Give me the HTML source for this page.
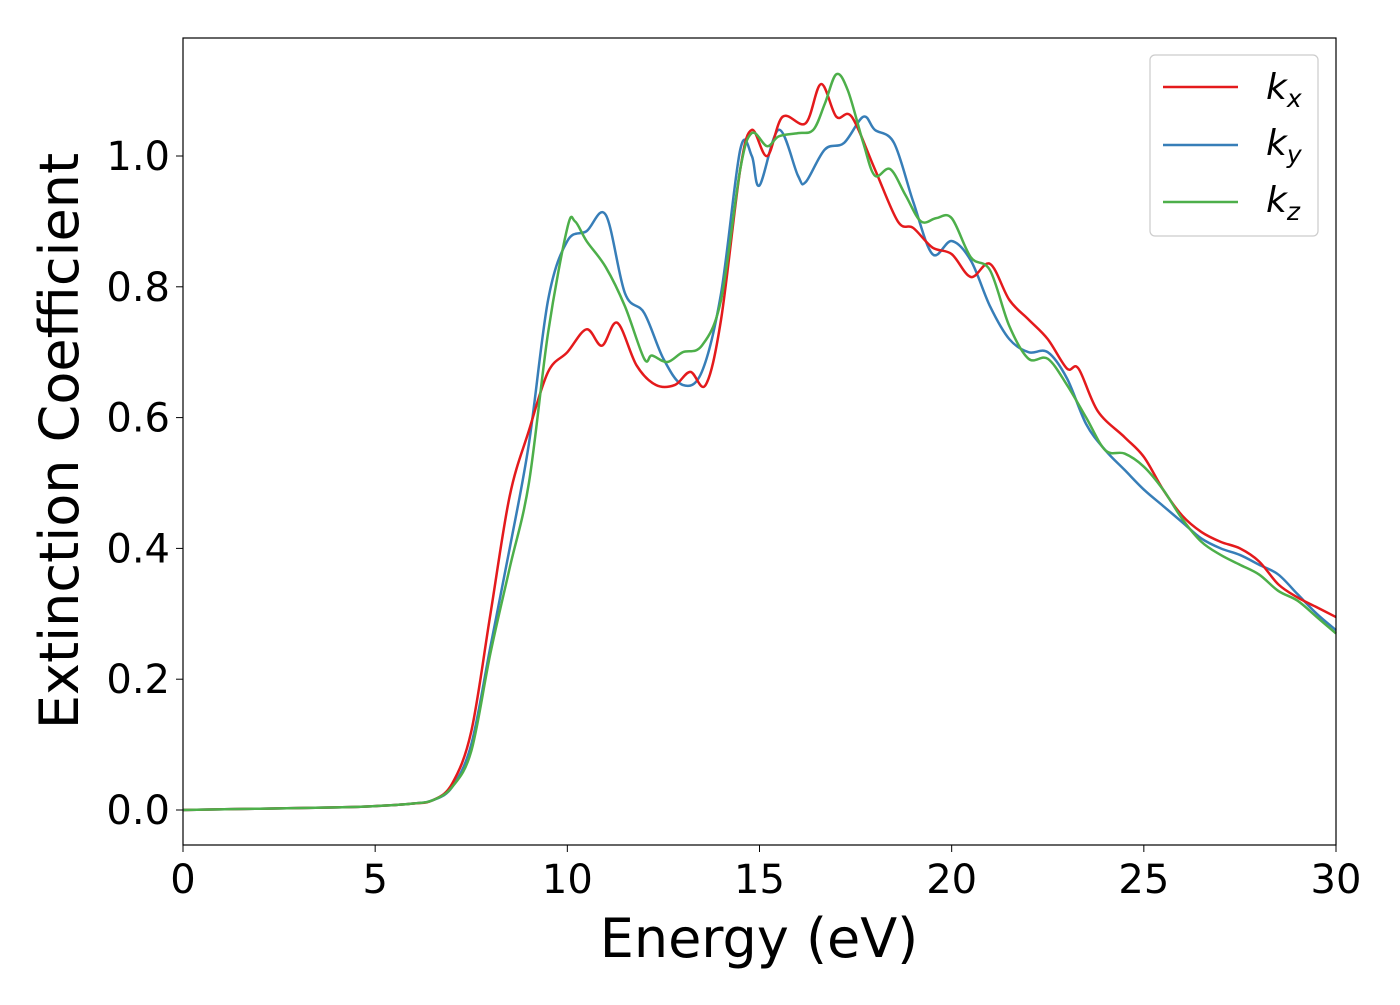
<!DOCTYPE html>
<html><head><meta charset="utf-8"><style>
body{margin:0;background:#fff}
svg text{font-family:"DejaVu Sans","Liberation Sans",sans-serif;fill:#000}
</style></head><body>
<svg id="chart" width="1400" height="1000" xmlns="http://www.w3.org/2000/svg">
<rect width="1400" height="1000" fill="#fff"/>
<g id="series"></g>
<rect x="183" y="38" width="1153" height="807" fill="none" stroke="#000" stroke-width="1.2"/>
<g id="xt"></g>
<g id="yt"></g>
<text x="759" y="957" font-size="54" text-anchor="middle">Energy (eV)</text>
<text transform="translate(78,441) rotate(-90)" font-size="54" text-anchor="middle">Extinction Coefficient</text>
<g>
<rect x="1150" y="55" width="168" height="181" rx="5" fill="#fff" stroke="#ccc" stroke-width="1.2"/>
<line x1="1163" x2="1238" y1="87" y2="87" stroke="#e41a1c" stroke-width="2.5"/>
<line x1="1163" x2="1238" y1="145" y2="145" stroke="#377eb8" stroke-width="2.5"/>
<line x1="1163" x2="1238" y1="202" y2="202" stroke="#4daf4a" stroke-width="2.5"/>
<text x="1266" y="99" font-size="36" font-style="italic">k<tspan font-size="25" dy="8">x</tspan></text>
<text x="1266" y="155" font-size="36" font-style="italic">k<tspan font-size="25" dy="8">y</tspan></text>
<text x="1266" y="212" font-size="36" font-style="italic">k<tspan font-size="25" dy="8">z</tspan></text>
</g>
</svg>
<script>
const xTicks=[0,5,10,15,20,25,30];
const yTicks=[0.0,0.2,0.4,0.6,0.8,1.0];
const yTickLabels=["0.0","0.2","0.4","0.6","0.8","1.0"];
const kxE=[0,2,4,5,6,6.5,7,7.5,8,8.5,9,9.5,10,10.5,10.9,11.3,11.8,12.3,12.8,13.2,13.6,14,14.5,14.8,15.2,15.6,16.2,16.6,17,17.4,18,18.6,19,19.5,20,20.5,21,21.5,22,22.5,23,23.3,23.8,24.5,25,25.5,26,26.5,27,27.5,28,28.5,29,29.5,30];
const kxV=[0,0.002,0.004,0.006,0.01,0.015,0.04,0.12,0.3,0.48,0.58,0.67,0.7,0.735,0.71,0.745,0.68,0.65,0.65,0.67,0.65,0.75,0.98,1.04,1.0,1.06,1.05,1.11,1.06,1.06,0.98,0.9,0.89,0.86,0.85,0.815,0.835,0.78,0.75,0.72,0.675,0.675,0.61,0.57,0.54,0.49,0.45,0.425,0.41,0.4,0.38,0.345,0.325,0.31,0.295];
const kyE=[0,2,4,5,6,6.5,7,7.5,8,8.5,9,9.5,10,10.5,11,11.5,12,12.5,13,13.5,14,14.5,14.8,15,15.5,16,16.2,16.7,17.2,17.7,18,18.5,19,19.5,20,20.5,21,21.5,22,22.5,23,23.5,24,24.5,25,25.5,26,26.5,27,27.5,28,28.5,29,29.5,30];
const kyV=[0,0.002,0.004,0.006,0.01,0.015,0.035,0.1,0.25,0.4,0.56,0.78,0.87,0.885,0.91,0.79,0.76,0.69,0.65,0.67,0.79,1.01,1.0,0.955,1.04,0.97,0.96,1.01,1.02,1.06,1.04,1.02,0.93,0.85,0.87,0.84,0.77,0.72,0.7,0.7,0.66,0.59,0.55,0.52,0.49,0.465,0.44,0.415,0.4,0.39,0.375,0.36,0.33,0.3,0.275];
const kzE=[0,2,4,5,6,6.5,7,7.5,8,8.5,9,9.5,10,10.2,10.5,11,11.5,12,12.2,12.6,13,13.5,14,14.5,14.8,15.2,15.5,16,16.4,16.7,17,17.3,17.7,18,18.4,18.8,19.2,19.6,20,20.5,21,21.5,22,22.5,23,23.5,24,24.5,25,25.5,26,26.5,27,27.5,28,28.5,29,29.5,30];
const kzV=[0,0.002,0.004,0.006,0.01,0.015,0.035,0.09,0.24,0.37,0.5,0.73,0.89,0.9,0.87,0.83,0.77,0.69,0.695,0.685,0.7,0.71,0.78,0.98,1.035,1.015,1.03,1.035,1.04,1.08,1.125,1.1,1.02,0.97,0.98,0.94,0.9,0.905,0.905,0.845,0.825,0.74,0.69,0.69,0.65,0.6,0.55,0.545,0.525,0.49,0.445,0.41,0.39,0.375,0.36,0.335,0.32,0.295,0.27];
const X=e=>183+(e/30)*1153;
const Y=v=>810-v*654;
const NS="http://www.w3.org/2000/svg";
function path(E,V){
  const p=E.map((e,i)=>[X(e),Y(V[i])]);
  let d="M"+p[0][0]+","+p[0][1];
  for(let i=0;i<p.length-1;i++){
    const p0=p[Math.max(0,i-1)],p1=p[i],p2=p[i+1],p3=p[Math.min(p.length-1,i+2)];
    const c1=[p1[0]+(p2[0]-p0[0])/6,p1[1]+(p2[1]-p0[1])/6];
    const c2=[p2[0]-(p3[0]-p1[0])/6,p2[1]-(p3[1]-p1[1])/6];
    d+=" C"+c1+" "+c2+" "+p2;
  }
  return d;
}
const g=document.getElementById("series");
[[kyE,kyV,"#377eb8","line-ky"],[kxE,kxV,"#e41a1c","line-kx"],[kzE,kzV,"#4daf4a","line-kz"]].forEach(s=>{
  const el=document.createElementNS(NS,"path");
  el.setAttribute("d",path(s[0],s[1]));
  el.setAttribute("fill","none");el.setAttribute("stroke",s[2]);el.setAttribute("stroke-width","2.5");
  
  
  g.appendChild(el);
});
const xt=document.getElementById("xt");
xTicks.forEach(t=>{
  const l=document.createElementNS(NS,"line");
  l.setAttribute("x1",X(t));l.setAttribute("x2",X(t));l.setAttribute("y1",845);l.setAttribute("y2",852);l.setAttribute("stroke","#000");
  
  
  xt.appendChild(l);
  const tx=document.createElementNS(NS,"text");
  tx.setAttribute("x",X(t));tx.setAttribute("y",893);tx.setAttribute("font-size","40");tx.setAttribute("text-anchor","middle");
  tx.textContent=t;
  
  
  xt.appendChild(tx);
});
const yt=document.getElementById("yt");
yTicks.forEach((t,i)=>{
  const l=document.createElementNS(NS,"line");
  l.setAttribute("x1",176);l.setAttribute("x2",183);l.setAttribute("y1",Y(t));l.setAttribute("y2",Y(t));l.setAttribute("stroke","#000");
  
  
  yt.appendChild(l);
  const tx=document.createElementNS(NS,"text");
  tx.setAttribute("x",170);tx.setAttribute("y",Y(t)+14);tx.setAttribute("font-size","40");tx.setAttribute("text-anchor","end");
  tx.textContent=yTickLabels[i];
  
  
  yt.appendChild(tx);
});
</script>
</body></html>
